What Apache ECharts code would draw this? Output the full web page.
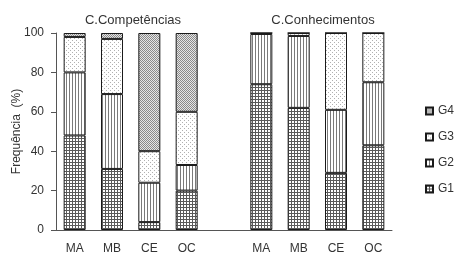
<!DOCTYPE html>
<html>
<head>
<meta charset="utf-8">
<script src="https://cdn.jsdelivr.net/npm/echarts@6/dist/echarts.min.js"></script>
<style>html,body{margin:0;padding:0;background:#fff;}#c{width:456px;height:262px;}</style>
</head>
<body>
<div id="c"></div>
<script>
// ---- data ----
var categories = ['MA', 'MB', 'CE', 'OC', '', 'MA', 'MB', 'CE', 'OC'];
var groupTitles = ['C.Competências', 'C.Conhecimentos'];
var seriesNames = ['G1', 'G2', 'G3', 'G4'];
var G1 = [48, 31, 4, 20, null, 74, 62, 29, 43];
var G2 = [32, 38, 20, 13, null, 25.5, 36.5, 32, 32];
var G3 = [18, 28, 16, 27, null, 0.5, 1.5, 39, 25];
var G4 = [2, 3, 60, 40, null, 0, 0, 0, 0];
var yTicks = [0, 20, 40, 60, 80, 100];

// ---- patterns (style only) ----
function makePattern(kind) {
  var c = document.createElement('canvas');
  var ctx = c.getContext('2d');
  if (kind === 'grid') {
    c.width = 3; c.height = 3;
    ctx.fillStyle = '#fff'; ctx.fillRect(0, 0, 3, 3);
    ctx.fillStyle = '#5a5a5a';
    ctx.fillRect(0, 0, 3, 1); ctx.fillRect(0, 0, 1, 3);
  } else if (kind === 'vert') {
    c.width = 3; c.height = 3;
    ctx.fillStyle = '#fff'; ctx.fillRect(0, 0, 3, 3);
    ctx.fillStyle = '#7a7a7a';
    ctx.fillRect(0, 0, 1, 3);
  } else if (kind === 'dots') {
    c.width = 4; c.height = 4;
    ctx.fillStyle = '#fff'; ctx.fillRect(0, 0, 4, 4);
    ctx.fillStyle = '#b0b0b0';
    ctx.fillRect(0, 0, 1, 1); ctx.fillRect(2, 2, 1, 1);
  } else {
    c.width = 2; c.height = 2;
    ctx.fillStyle = '#e6e6e6'; ctx.fillRect(0, 0, 2, 2);
    ctx.fillStyle = '#8a8a8a';
    ctx.fillRect(0, 0, 1, 1); ctx.fillRect(1, 1, 1, 1);
  }
  return { image: c, repeat: 'repeat' };
}
var patterns = { G1: makePattern('grid'), G2: makePattern('vert'), G3: makePattern('dots'), G4: makePattern('diag') };
var values = { G1: G1, G2: G2, G3: G3, G4: G4 };

var series = seriesNames.map(function (n) {
  return {
    name: n, type: 'bar', stack: 'all', barWidth: 22,
    data: values[n],
    itemStyle: { color: patterns[n], borderColor: '#1a1a1a', borderWidth: 1 },
    emphasis: { disabled: true }
  };
});

var chart = echarts.init(document.getElementById('c'), null, { renderer: 'canvas' });
var font = 'Liberation Sans, Arial, sans-serif';
chart.setOption({
  animation: false,
  textStyle: { fontFamily: font },
  title: [
    { text: groupTitles[0], left: 128, top: 9, textAlign: 'center', textStyle: { fontSize: 13, fontWeight: 'normal', color: '#333', fontFamily: font } },
    { text: groupTitles[1], left: 318, top: 9, textAlign: 'center', textStyle: { fontSize: 13, fontWeight: 'normal', color: '#333', fontFamily: font } }
  ],
  legend: {
    orient: 'vertical', left: 420, top: 100,
    data: ['G4', 'G3', 'G2', 'G1'],
    itemWidth: 7, itemHeight: 7, itemGap: 14,
    icon: 'rect',
    textStyle: { fontSize: 12, color: '#333', fontFamily: font }
  },
  grid: { left: 56, right: 64, top: 33, bottom: 32 },
  xAxis: {
    type: 'category', data: categories,
    axisLine: { lineStyle: { color: '#555', width: 1 } },
    axisTick: { show: false },
    axisLabel: { fontSize: 12, color: '#333', margin: 13, fontFamily: font }
  },
  yAxis: {
    type: 'value', min: yTicks[0], max: yTicks[yTicks.length - 1], interval: 20,
    name: 'Frequência  (%)', nameLocation: 'middle', nameGap: 33, nameRotate: 90,
    nameMoveOverlap: false,
    nameTextStyle: { fontSize: 12, color: '#333', fontFamily: font },
    axisLine: { show: true, lineStyle: { color: '#555', width: 1 } },
    axisTick: { show: true, length: 5, lineStyle: { color: '#555' } },
    axisLabel: { fontSize: 12, color: '#333', margin: 12, fontFamily: font },
    splitLine: { show: false }
  },
  series: series
});
</script>
</body>
</html>
